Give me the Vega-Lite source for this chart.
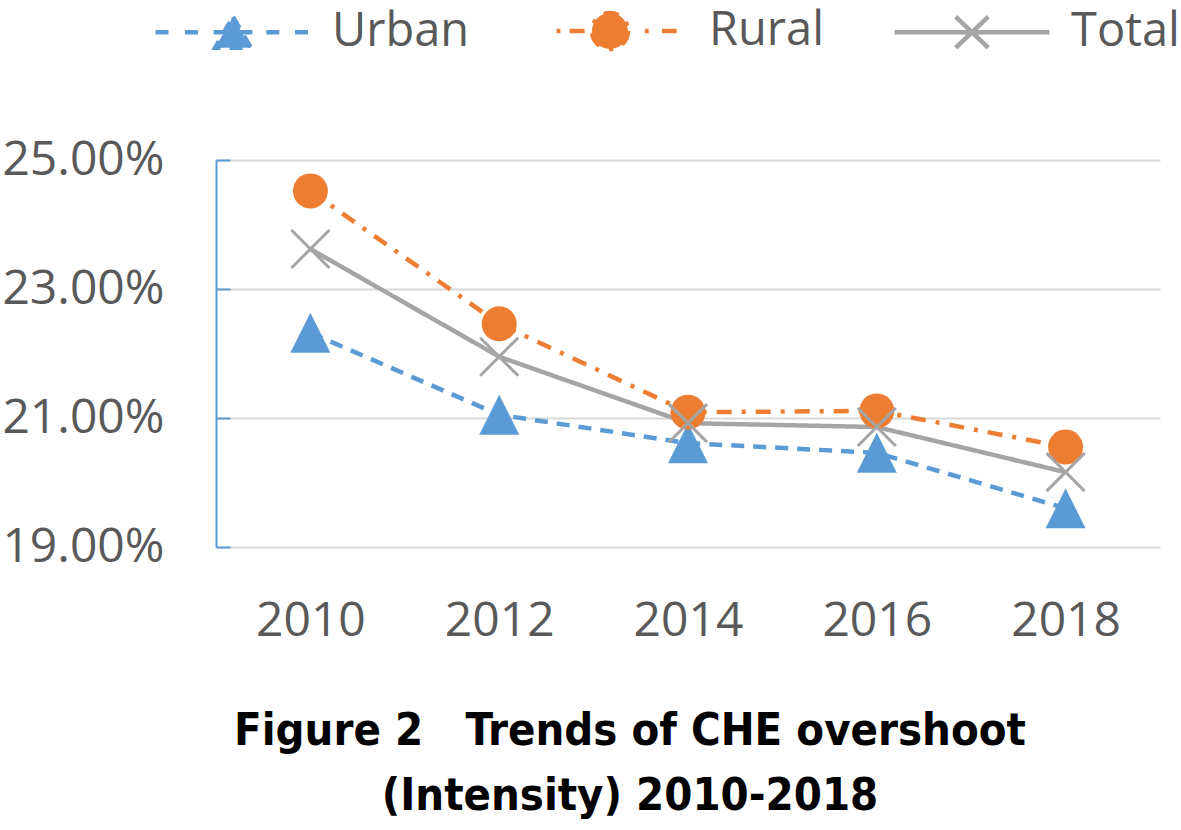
{
  "$schema": "https://vega.github.io/schema/vega-lite/v6.json",
  "width": 944,
  "height": 387,
  "autosize": {"type": "none"},
  "padding": {"left": 216, "top": 160, "right": 21, "bottom": 283},
  "background": "white",
  "config": {"view": {"stroke": null}, "font": "Open Sans"},
  "data": {
    "values": [
      {"year": "2010", "series": "Urban", "value": 0.2232},
      {"year": "2012", "series": "Urban", "value": 0.2105},
      {"year": "2014", "series": "Urban", "value": 0.2061},
      {"year": "2016", "series": "Urban", "value": 0.2046},
      {"year": "2018", "series": "Urban", "value": 0.1960},
      {"year": "2010", "series": "Rural", "value": 0.2452},
      {"year": "2012", "series": "Rural", "value": 0.2246},
      {"year": "2014", "series": "Rural", "value": 0.2109},
      {"year": "2016", "series": "Rural", "value": 0.2111},
      {"year": "2018", "series": "Rural", "value": 0.2055},
      {"year": "2010", "series": "Total", "value": 0.2362},
      {"year": "2012", "series": "Total", "value": 0.2195},
      {"year": "2014", "series": "Total", "value": 0.2092},
      {"year": "2016", "series": "Total", "value": 0.2086},
      {"year": "2018", "series": "Total", "value": 0.2016}
    ]
  },
  "title": {
    "text": ["Figure 2\u00a0\u00a0 Trends of CHE overshoot", "(Intensity) 2010-2018"],
    "orient": "bottom",
    "anchor": "middle",
    "frame": "group",
    "dx": -58,
    "offset": 64,
    "font": "DejaVu Sans Condensed, Open Sans",
    "fontSize": 45,
    "fontWeight": "bold",
    "color": "#000000",
    "lineHeight": 65
  },
  "encoding": {
    "x": {
      "field": "year",
      "type": "ordinal",
      "scale": {"type": "point", "padding": 0.5},
      "axis": {
        "title": null,
        "labelAngle": 0,
        "labelFont": "Open Sans",
        "labelFontSize": 48,
        "labelColor": "#595959",
        "labelPadding": 50,
        "ticks": false,
        "domain": false,
        "grid": false
      }
    },
    "y": {
      "field": "value",
      "type": "quantitative",
      "scale": {"domain": [0.19, 0.25], "nice": false, "zero": false},
      "axis": {
        "title": null,
        "values": [0.19, 0.21, 0.23, 0.25],
        "format": ".2%",
        "labelFont": "Open Sans",
        "labelFontSize": 48,
        "labelColor": "#595959",
        "labelPadding": 66,
        "domainColor": "#5B9BD5",
        "domainWidth": 2,
        "tickColor": "#5B9BD5",
        "tickWidth": 2,
        "tickSize": -14,
        "gridColor": "#D9D9D9",
        "gridWidth": 2
      }
    }
  },
  "layer": [
    {
      "mark": {"type": "line", "strokeWidth": 4.5, "strokeCap": "butt"},
      "encoding": {
        "color": {
          "field": "series",
          "type": "nominal",
          "scale": {"domain": ["Urban", "Rural", "Total"], "range": ["#5B9BD5", "#ED7D31", "#A5A5A5"]},
          "legend": {
            "title": null,
            "orient": "none",
            "legendX": -63,
            "legendY": -209,
            "direction": "horizontal",
            "padding": 0,
            "symbolSize": 24025,
            "labelOffset": 19,
            "columnPadding": 60,
            "labelFont": "Open Sans",
            "labelFontSize": 47,
            "labelColor": "#595959",
            "encode": {
              "symbols": {
                "update": {
                  "shape": {"signal": "datum.value === 'Urban' ? 'M-1,0H-0.8M-0.62,0H-0.43M-0.25,0H-0.09M0.09,0H0.25M0.43,0H0.62M0.8,0H1M0,-0.2L0.23,0.2L-0.23,0.2Z' : datum.value === 'Rural' ? 'M-0.69,0H-0.64M-0.52,0H-0.28M0.45,0H0.5M0.67,0H0.86M0.232,0C0.232,0.128 0.128,0.232 0,0.232C-0.128,0.232 -0.232,0.128 -0.232,0C-0.232,-0.128 -0.128,-0.232 0,-0.232C0.128,-0.232 0.232,-0.128 0.232,0Z' : 'M-1,0H1M-0.21,-0.2L0.21,0.2M-0.21,0.2L0.21,-0.2'"},
                  "stroke": {"scale": "color", "field": "value"},
                  "fill": {"scale": "color", "field": "value"},
                  "strokeWidth": {"value": 4.5},
                  "strokeDash": {"value": []},
                  "opacity": {"value": 1}
                }
              }
            }
          }
        },
        "strokeDash": {
          "field": "series",
          "type": "nominal",
          "scale": {"domain": ["Urban", "Rural", "Total"], "range": [[13, 9], [15, 10, 4, 10], [1, 0]]},
          "legend": null
        }
      }
    },
    {
      "transform": [{"filter": "datum.series === 'Urban'"}],
      "mark": {"type": "point", "shape": "M0,-1L1,1L-1,1Z", "size": 1600, "filled": true, "color": "#5B9BD5", "opacity": 1}
    },
    {
      "transform": [{"filter": "datum.series === 'Rural'"}],
      "mark": {"type": "point", "shape": "circle", "size": 1225, "filled": true, "color": "#ED7D31", "opacity": 1}
    },
    {
      "transform": [{"filter": "datum.series === 'Total'"}],
      "mark": {"type": "point", "shape": "M-1,-1L1,1M-1,1L1,-1", "size": 1444, "filled": false, "color": "#A5A5A5", "strokeWidth": 3, "opacity": 1}
    }
  ]
}
